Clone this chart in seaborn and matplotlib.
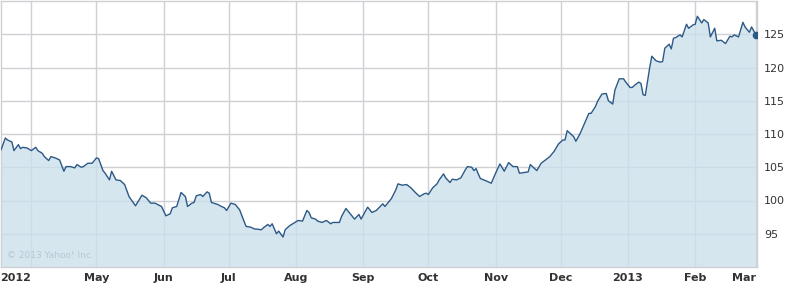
import matplotlib
matplotlib.use("Agg")
import matplotlib.pyplot as plt
import matplotlib.dates as mdates
import seaborn as sns
import pandas as pd

dates = [
    "2012-03-18", "2012-03-20", "2012-03-21", "2012-03-23", "2012-03-24", "2012-03-26", "2012-03-27",
    "2012-03-28", "2012-03-30", "2012-04-01", "2012-04-03", "2012-04-04", "2012-04-06", "2012-04-07",
    "2012-04-09", "2012-04-10", "2012-04-12", "2012-04-14", "2012-04-16", "2012-04-17", "2012-04-19",
    "2012-04-21", "2012-04-22", "2012-04-24", "2012-04-25", "2012-04-27", "2012-04-29", "2012-05-01",
    "2012-05-02", "2012-05-04", "2012-05-05", "2012-05-07", "2012-05-08", "2012-05-10", "2012-05-12",
    "2012-05-14", "2012-05-16", "2012-05-19", "2012-05-22", "2012-05-24", "2012-05-26", "2012-05-28",
    "2012-05-31", "2012-06-02", "2012-06-04", "2012-06-05", "2012-06-07", "2012-06-09", "2012-06-11",
    "2012-06-12", "2012-06-14", "2012-06-15", "2012-06-16", "2012-06-18", "2012-06-19", "2012-06-21",
    "2012-06-22", "2012-06-23", "2012-06-26", "2012-06-27", "2012-06-29", "2012-06-30", "2012-07-02",
    "2012-07-04", "2012-07-06", "2012-07-08", "2012-07-09", "2012-07-11", "2012-07-13", "2012-07-14",
    "2012-07-16", "2012-07-17", "2012-07-19", "2012-07-20", "2012-07-21", "2012-07-23", "2012-07-24",
    "2012-07-26", "2012-07-27", "2012-07-29", "2012-07-31", "2012-08-02", "2012-08-04", "2012-08-06",
    "2012-08-07", "2012-08-08", "2012-08-10", "2012-08-11", "2012-08-13", "2012-08-15", "2012-08-17",
    "2012-08-18", "2012-08-21", "2012-08-22", "2012-08-24", "2012-08-26", "2012-08-28", "2012-08-30",
    "2012-08-31", "2012-09-02", "2012-09-03", "2012-09-05", "2012-09-07", "2012-09-10", "2012-09-11",
    "2012-09-13", "2012-09-14", "2012-09-16", "2012-09-17", "2012-09-19", "2012-09-21", "2012-09-23",
    "2012-09-25", "2012-09-27", "2012-09-29", "2012-09-30", "2012-10-01", "2012-10-03", "2012-10-05",
    "2012-10-06", "2012-10-08", "2012-10-09", "2012-10-11", "2012-10-12", "2012-10-14", "2012-10-16",
    "2012-10-18", "2012-10-19", "2012-10-21", "2012-10-22", "2012-10-23", "2012-10-24", "2012-10-25",
    "2012-10-28", "2012-10-30", "2012-11-01", "2012-11-03", "2012-11-05", "2012-11-07", "2012-11-09",
    "2012-11-11", "2012-11-12", "2012-11-14", "2012-11-16", "2012-11-17", "2012-11-19", "2012-11-20",
    "2012-11-22", "2012-11-24", "2012-11-26", "2012-11-28", "2012-11-30", "2012-12-02", "2012-12-03",
    "2012-12-04", "2012-12-06", "2012-12-07", "2012-12-08", "2012-12-10", "2012-12-12", "2012-12-14",
    "2012-12-15", "2012-12-17", "2012-12-18", "2012-12-20", "2012-12-22", "2012-12-23", "2012-12-25",
    "2012-12-26", "2012-12-28", "2012-12-30", "2012-12-31", "2013-01-02", "2013-01-03", "2013-01-04",
    "2013-01-06", "2013-01-07", "2013-01-08", "2013-01-09", "2013-01-11", "2013-01-12", "2013-01-14",
    "2013-01-16", "2013-01-17", "2013-01-18", "2013-01-20", "2013-01-21", "2013-01-22", "2013-01-23",
    "2013-01-25", "2013-01-26", "2013-01-28", "2013-01-29", "2013-01-31", "2013-02-01", "2013-02-02",
    "2013-02-04", "2013-02-05", "2013-02-07", "2013-02-08", "2013-02-10", "2013-02-11", "2013-02-13",
    "2013-02-15", "2013-02-17", "2013-02-18", "2013-02-19", "2013-02-21", "2013-02-23", "2013-02-24",
    "2013-02-26", "2013-02-27", "2013-03-01",
]

prices = [
    107.6, 109.4, 109.1, 108.8, 107.5, 108.4, 107.8,
    108.0, 107.9, 107.5, 108.0, 107.5, 107.1, 106.6,
    106.0, 106.6, 106.4, 106.1, 104.4, 105.1, 105.1,
    104.9, 105.4, 105.0, 105.1, 105.6, 105.6, 106.4,
    106.3, 104.5, 104.1, 103.1, 104.4, 103.1, 103.0,
    102.4, 100.6, 99.2, 100.8, 100.4, 99.6, 99.6,
    99.1, 97.7, 98.0, 98.9, 99.1, 101.2, 100.6,
    99.1, 99.6, 99.7, 100.7, 100.9, 100.6, 101.3,
    101.1, 99.7, 99.4, 99.2, 98.9, 98.5, 99.6,
    99.4, 98.6, 96.9, 96.1, 96.0, 95.7, 95.7,
    95.6, 95.9, 96.4, 96.1, 96.5, 95.0, 95.4,
    94.5, 95.6, 96.2, 96.6, 97.0, 96.9, 98.5,
    98.2, 97.4, 97.2, 96.9, 96.7, 97.0, 96.5,
    96.7, 96.7, 97.6, 98.8, 98.0, 97.2, 97.9,
    97.2, 98.4, 99.0, 98.2, 98.5, 99.5, 99.1,
    99.9, 100.3, 101.6, 102.5, 102.3, 102.4, 101.9,
    101.2, 100.6, 101.0, 101.1, 100.9, 101.9, 102.5,
    103.1, 104.0, 103.4, 102.7, 103.2, 103.1, 103.4,
    104.6, 105.1, 105.0, 104.5, 104.8, 104.0, 103.3,
    102.9, 102.6, 104.1, 105.5, 104.4, 105.7, 105.1,
    105.1, 104.1, 104.2, 104.3, 105.4, 104.8, 104.5,
    105.6, 106.1, 106.6, 107.4, 108.5, 109.1, 109.1,
    110.5, 109.9, 109.6, 108.9, 110.1, 111.6, 113.1,
    113.1, 114.1, 114.9, 116.0, 116.1, 115.0, 114.5,
    116.6, 118.3, 118.3, 117.8, 117.0, 117.0, 117.3,
    117.8, 117.6, 115.9, 115.8, 119.9, 121.7, 121.0,
    120.8, 120.9, 122.9, 123.5, 122.8, 124.4, 124.5,
    124.9, 124.6, 126.5, 125.9, 126.4, 126.5, 127.7,
    126.7, 127.2, 126.7, 124.6, 125.9, 124.0, 124.1,
    123.6, 124.7, 124.6, 124.9, 124.6, 126.8, 126.1,
    125.3, 126.1, 124.9,
]

month_ticks = ["2012-04-01", "2012-05-01", "2012-06-01", "2012-07-01", "2012-08-01", "2012-09-01",
               "2012-10-01", "2012-11-01", "2012-12-01", "2013-01-01", "2013-02-01", "2013-03-01"]
month_labels = ["2012", "May", "Jun", "Jul", "Aug", "Sep", "Oct", "Nov", "Dec", "2013", "Feb", "Mar"]
y_ticks = [95, 100, 105, 110, 115, 120, 125]

df = pd.DataFrame({"date": pd.to_datetime(dates), "price": prices})

sns.set_style("white")
plt.rcParams["font.family"] = ["DejaVu Sans"]

fig = plt.figure(figsize=(7.88, 2.86), dpi=100)
ax = fig.add_axes([1 / 788, 1 - 267 / 286, 756 / 788, 266 / 286])

grid_c = "#cdd1d5"
line_c = "#2b5886"

ax.fill_between(df["date"], df["price"], 90, color="#cce0ec", alpha=0.8, linewidth=0, zorder=1)
sns.lineplot(data=df, x="date", y="price", ax=ax, color=line_c, linewidth=1.0, zorder=3)
ax.plot(df["date"].iloc[-1:], df["price"].iloc[-1:], "o", color=line_c, markersize=4.5, zorder=4)

ax.set_xlim(pd.Timestamp("2012-03-18"), pd.Timestamp("2013-03-01 12:00"))
ax.set_ylim(90, 130)

ax.set_xticks(pd.to_datetime(month_ticks))
ax.set_xticklabels(month_labels, fontsize=8, fontweight="bold", color="#333333")
for i, lab in enumerate(ax.get_xticklabels()):
    if i == 0 or i == len(month_labels) - 1:
        lab.set_horizontalalignment("right")

ax.yaxis.tick_right()
ax.set_yticks(y_ticks)
ax.set_yticklabels([str(v) for v in y_ticks], fontsize=8, color="#333333")

ax.tick_params(axis="both", length=0)
ax.tick_params(axis="x", pad=4)
ax.tick_params(axis="y", pad=5)

ax.set_axisbelow(True)
ax.grid(True, color=grid_c, linewidth=1.0)
for s in ax.spines.values():
    s.set_visible(True)
    s.set_color(grid_c)
    s.set_linewidth(1.0)

ax.set_xlabel("")
ax.set_ylabel("")

ax.text(0.008, 0.025, "© 2013 Yahoo! Inc.", transform=ax.transAxes, fontsize=6.5,
        color="#b9c6d2", ha="left", va="bottom", zorder=5)

fig.savefig("out.png", dpi=100)
